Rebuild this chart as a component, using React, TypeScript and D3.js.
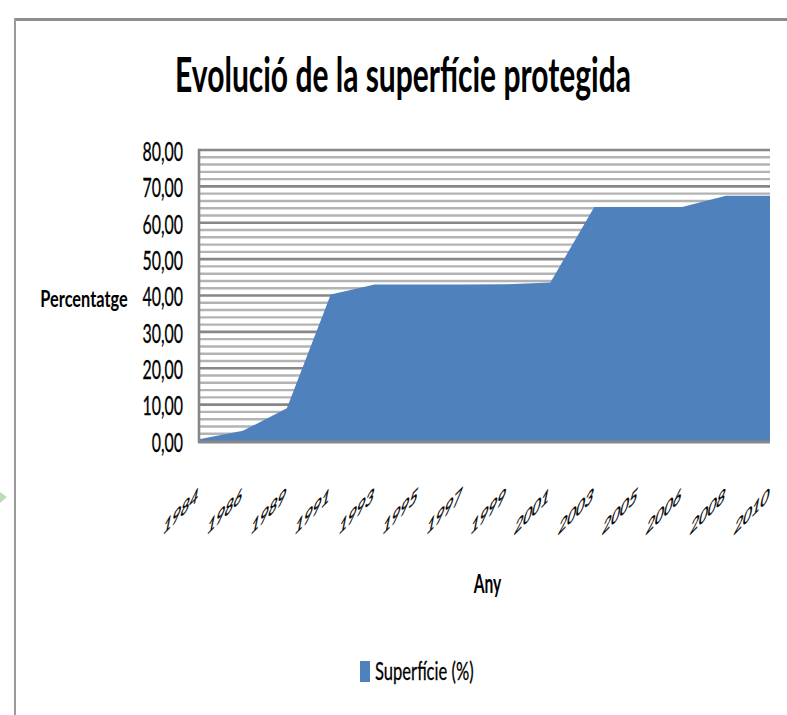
import React from "react";
import * as d3 from "d3";

const years = ["1984", "1986", "1989", "1991", "1993", "1995", "1997", "1999", "2001", "2003", "2005", "2006", "2008", "2010"];
const superficie = [0.5, 2.8, 9.0, 40.3, 43.0, 43.0, 43.0, 43.1, 43.6, 64.3, 64.3, 64.3, 67.4, 67.4];
const yMajorTicks = [0, 10, 20, 30, 40, 50, 60, 70, 80];
const yMinorStep = 2;
const titleText = "Evolució de la superfície protegida";
const yAxisTitle = "Percentatge";
const xAxisTitle = "Any";
const seriesName = "Superfície (%)";

const W = 787;
const H = 715;
const FONT = "Lato, 'Open Sans', 'DejaVu Sans', sans-serif";

const locale = d3.formatLocale({ decimal: ",", thousands: ".", grouping: [3], currency: ["", ""] });
const fmt = locale.format(".2f");

export default function App() {
  const x = d3.scalePoint<string>().domain(years).range([199, 770]);
  const y = d3.scaleLinear().domain([0, 80]).range([441, 150]);
  const minorTicks = d3.range(0, 80 + 0.001, yMinorStep).filter((v) => v % 10 !== 0);

  const area = d3
    .area<number>()
    .x((_, i) => x(years[i]) as number)
    .y0(y(0))
    .y1((d) => y(d));

  return (
    <svg
      width={W}
      height={H}
      style={{ position: "absolute", left: 0, top: 0, display: "block", background: "#fff" }}
      fontFamily={FONT}
    >
      <rect x={0} y={0} width={W} height={H} fill="#fff" />
      {/* outer frame */}
      <line x1={14} x2={W} y1={19.5} y2={19.5} stroke="#8e8e8e" strokeWidth={3} />
      <line x1={15} x2={15} y1={18} y2={H} stroke="#9a9a9a" strokeWidth={2} />
      <path d="M0,492 L7,497 L0,503 Z" fill="#a9d4a2" opacity={0.8} />

      {/* title */}
      <text
        transform={`translate(403,92) scale(0.625,1)`}
        textAnchor="middle"
        fontSize={48}
        fontWeight="bold"
        fill="#000"
      >
        {titleText}
      </text>

      {/* minor gridlines */}
      {minorTicks.map((t) => (
        <line key={"mi" + t} x1={199} x2={770} y1={y(t)} y2={y(t)} stroke="#b3b3b3" strokeWidth={2.4} />
      ))}
      {/* major gridlines */}
      {yMajorTicks.filter((t) => t > 0).map((t) => (
        <line key={"ma" + t} x1={199} x2={770} y1={y(t)} y2={y(t)} stroke="#878787" strokeWidth={2.6} />
      ))}

      {/* area */}
      <path d={area(superficie) as string} fill="#4f81bd" />

      {/* axes */}
      <line x1={199} x2={199} y1={y(80) - 1.3} y2={y(0) + 1.5} stroke="#878787" strokeWidth={2.6} />
      <line x1={198} x2={770} y1={y(0) + 1} y2={y(0) + 1} stroke="#888" strokeWidth={3} />

      {/* y tick labels */}
      {yMajorTicks.map((t) => (
        <text
          key={"yl" + t}
          transform={`translate(183,${y(t)}) scale(0.59,1)`}
          textAnchor="end"
          dy="0.4em"
          fontSize={27}
          fill="#000"
          stroke="#000"
          strokeWidth={0.3}
        >
          {fmt(t)}
        </text>
      ))}

      {/* x tick labels */}
      {years.map((yr) => (
        <text
          key={"xl" + yr}
          transform={`matrix(0.72,-0.72,-0.2,1,${(x(yr) as number) - 2},501)`}
          textAnchor="end"
          fontSize={21}
          fill="#000"
          stroke="#000"
          strokeWidth={0.35}
        >
          {yr}
        </text>
      ))}

      {/* axis titles */}
      <text
        transform={`translate(84,307) scale(0.71,1)`}
        textAnchor="middle"
        fontSize={23}
        fontWeight="bold"
        fill="#000"
      >
        {yAxisTitle}
      </text>
      <text
        transform={`translate(487.5,593) scale(0.6,1)`}
        textAnchor="middle"
        fontSize={26}
        fontWeight="bold"
        fill="#000"
      >
        {xAxisTitle}
      </text>

      {/* legend */}
      <rect x={360} y={661} width={10} height={21} fill="#4f81bd" />
      <text
        transform={`translate(375,680) scale(0.65,1)`}
        fontSize={25.5}
        fill="#000"
        stroke="#000"
        strokeWidth={0.3}
      >
        {seriesName}
      </text>
    </svg>
  );
}
